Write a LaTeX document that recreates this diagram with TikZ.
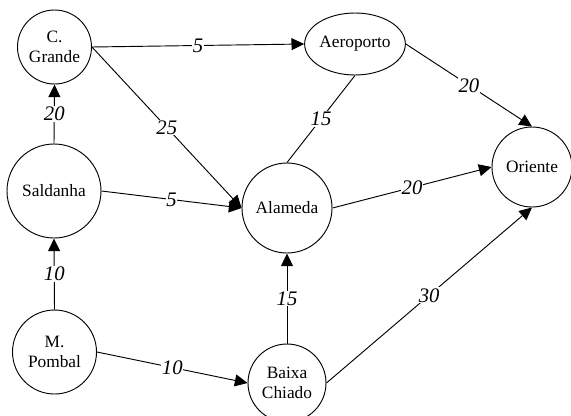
\documentclass[tikz,border=0pt]{standalone}
\usepackage{fontspec}
\setmainfont{Liberation Serif}
\usetikzlibrary{arrows.meta,shapes.geometric}
\begin{document}
\begin{tikzpicture}[x=0.75pt,y=-0.75pt,
  station/.style={draw, line width=0.7pt, circle, inner sep=0pt, align=center,
    font=\fontsize{13}{15}\selectfont},
  link/.style={line width=0.7pt, -{Triangle[length=9.5pt,width=9pt]}},
  plain/.style={line width=0.7pt},
  cost/.style={fill=white, inner sep=0.6pt, font=\fontsize{15.5}{17}\selectfont\itshape}]
\useasboundingbox (0,0) rectangle (571,415);

% stations
\node[station, minimum size=55.5pt] (cg)  at (54.5,47)  {C.\\Grande};
\node[station, minimum size=70.5pt] (sal) at (54,191)   {Saldanha};
\node[station, minimum size=63pt]   (mp)  at (54.5,352) {M.\\Pombal};
\node[station, ellipse, minimum width=75pt, minimum height=46.5pt] (ae) at (355,44) {Aeroporto};
\node[station, minimum size=67.5pt] (al)  at (287,208)  {Alameda};
\node[station, minimum size=58.5pt] (bc)  at (287,383)  {Baixa\\Chiado};
\node[station, minimum size=60pt]   (ori) at (532,167)  {Oriente};

% weighted connections
\draw[link] (cg.east)  -- node[cost]{5}  (ae.west);
\draw[link] (cg.east)  -- node[cost]{25} (al.west);
\draw[link] (sal.north) -- node[cost]{20} (cg.south);
\draw[link] (sal.east) -- node[cost]{5}  (al.west);
\draw[link] (mp.north) -- node[cost]{10} (sal.south);
\draw[link] (mp.east)  -- node[cost]{10} (bc.west);
\draw[link] (bc.north) -- node[cost]{15} (al.south);
\draw[link] (bc.east)  -- node[cost]{30} (ori.south);
\draw[link] (al.east)  -- node[cost]{20} (ori.west);
\draw[link] (ae.east)  -- node[cost]{20} (ori.north);
\draw[plain] (ae.south) -- node[cost]{15} (al.north);
\end{tikzpicture}
\end{document}
